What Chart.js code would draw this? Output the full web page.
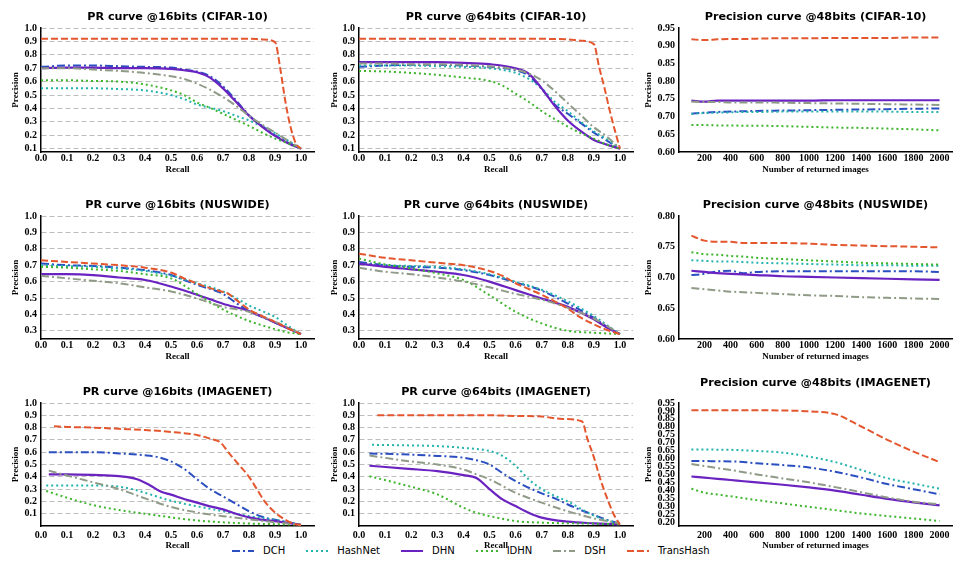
<!DOCTYPE html>
<html>
<head>
<meta charset="utf-8">
<script src="https://cdn.jsdelivr.net/npm/chart.js@4.4.1/dist/chart.umd.min.js"></script>
<style>
  body { margin: 0; background: #fff; }
  #page { position: relative; width: 969px; height: 565px; overflow: hidden; background: #fff; }
  #page canvas { position: absolute; }
  #legend { position: absolute; left: 232px; top: 544px; display: flex; font: 10px 'DejaVu Sans', sans-serif; line-height: 14px; color: #000; }
  #legend .item { display: flex; align-items: center; margin-right: 21px; }
  #legend svg { margin-right: 9px; }
</style>
</head>
<body>
<div id="page"><div id="legend"></div></div>
<script>
// methods, in legend order
const methods = ['DCH', 'HashNet', 'DHN', 'IDHN', 'DSH', 'TransHash'];
const colors = ['#2b4fc1', '#22b3ad', '#6a22c0', '#3db52c', '#8f9b87', '#e4572e'];
const dashes = [[8, 3, 2, 3], [2, 3], [], [2, 3], [8, 3, 2, 3], [7, 3]];

// tick labels
const recallTicks = [0, 0.1, 0.2, 0.3, 0.4, 0.5, 0.6, 0.7, 0.8, 0.9, 1.0];
const prTicks = [0.1, 0.2, 0.3, 0.4, 0.5, 0.6, 0.7, 0.8, 0.9, 1.0];
const nusPrTicks = [0.3, 0.4, 0.5, 0.6, 0.7, 0.8, 0.9, 1.0];
const topKTicks = [200, 400, 600, 800, 1000, 1200, 1400, 1600, 1800, 2000];
const cifarTopTicks = [0.60, 0.65, 0.70, 0.75, 0.80, 0.85, 0.90, 0.95];
const nusTopTicks = [0.60, 0.65, 0.70, 0.75, 0.80];
const imnetTopTicks = [0.20, 0.25, 0.30, 0.35, 0.40, 0.45, 0.50, 0.55, 0.60, 0.65, 0.70, 0.75, 0.80, 0.85, 0.90, 0.95];

// number of returned images
const topK = [100, 200, 300, 400, 500, 600, 800, 1000, 1200, 1400, 1600, 1800, 2000];

// PR curves: [recall, precision] per method (order of methods)
const cifar16 = [
  [[0,.71],[.1,.72],[.2,.72],[.3,.715],[.4,.71],[.5,.705],[.55,.69],[.6,.675],[.65,.64],[.7,.565],[.75,.46],[.8,.35],[.85,.27],[.9,.2],[.95,.145],[1,.1]],
  [[0,.55],[.1,.55],[.2,.55],[.3,.545],[.4,.535],[.45,.52],[.5,.5],[.55,.47],[.6,.43],[.65,.405],[.7,.38],[.75,.345],[.8,.31],[.85,.265],[.9,.215],[.95,.16],[1,.1]],
  [[0,.70],[.1,.705],[.2,.705],[.3,.70],[.4,.70],[.5,.695],[.55,.685],[.6,.67],[.65,.63],[.7,.55],[.75,.45],[.8,.345],[.85,.265],[.9,.195],[.95,.14],[1,.1]],
  [[0,.61],[.1,.61],[.2,.605],[.3,.60],[.4,.58],[.45,.56],[.5,.535],[.55,.5],[.6,.445],[.65,.405],[.7,.36],[.75,.315],[.8,.27],[.85,.22],[.9,.175],[.95,.14],[1,.1]],
  [[0,.70],[.1,.70],[.2,.69],[.3,.68],[.4,.665],[.5,.64],[.55,.62],[.6,.585],[.65,.54],[.7,.485],[.75,.42],[.8,.345],[.85,.28],[.9,.22],[.95,.16],[1,.1]],
  [[0,.92],[.2,.92],[.4,.92],[.6,.92],[.8,.92],[.85,.915],[.9,.895],[.92,.7],[.94,.45],[.96,.26],[.98,.14],[1,.1]]
];
const cifar64 = [
  [[0,.71],[.1,.72],[.2,.725],[.3,.725],[.4,.72],[.5,.71],[.6,.685],[.65,.645],[.7,.545],[.75,.43],[.8,.36],[.85,.29],[.9,.22],[.95,.16],[1,.1]],
  [[0,.72],[.1,.72],[.2,.72],[.3,.715],[.4,.71],[.5,.70],[.6,.665],[.65,.62],[.7,.55],[.75,.45],[.8,.38],[.85,.3],[.9,.23],[.95,.17],[1,.1]],
  [[0,.745],[.1,.745],[.2,.745],[.3,.745],[.4,.74],[.5,.73],[.6,.70],[.65,.66],[.7,.55],[.75,.42],[.8,.31],[.85,.23],[.9,.165],[.95,.13],[1,.1]],
  [[0,.68],[.1,.675],[.2,.665],[.3,.65],[.4,.63],[.5,.605],[.55,.57],[.6,.51],[.65,.45],[.7,.38],[.75,.32],[.8,.265],[.85,.215],[.9,.175],[.95,.13],[1,.1]],
  [[0,.735],[.1,.735],[.2,.73],[.3,.73],[.4,.725],[.5,.715],[.6,.69],[.65,.66],[.7,.61],[.75,.53],[.8,.44],[.85,.35],[.9,.26],[.95,.19],[1,.1]],
  [[0,.92],[.2,.92],[.4,.92],[.6,.92],[.8,.915],[.85,.905],[.9,.88],[.92,.71],[.94,.56],[.96,.39],[.98,.24],[1,.1]]
];
const nus16 = [
  [[0,.71],[.1,.70],[.2,.695],[.3,.685],[.4,.67],[.5,.64],[.55,.61],[.6,.58],[.7,.525],[.75,.47],[.8,.42],[.85,.385],[.9,.35],[.95,.315],[1,.28]],
  [[0,.70],[.1,.695],[.2,.69],[.3,.68],[.4,.665],[.5,.635],[.6,.59],[.7,.54],[.75,.50],[.8,.455],[.85,.42],[.9,.385],[.95,.33],[1,.28]],
  [[0,.645],[.1,.645],[.2,.64],[.3,.625],[.4,.61],[.5,.57],[.6,.52],[.7,.465],[.8,.42],[.9,.35],[.95,.315],[1,.28]],
  [[0,.69],[.1,.685],[.2,.675],[.3,.665],[.4,.645],[.5,.62],[.6,.525],[.7,.43],[.8,.36],[.9,.31],[.95,.29],[1,.28]],
  [[0,.635],[.1,.62],[.2,.605],[.3,.59],[.4,.565],[.5,.54],[.6,.497],[.7,.446],[.8,.416],[.9,.355],[.95,.32],[1,.28]],
  [[0,.73],[.1,.72],[.2,.71],[.3,.70],[.4,.685],[.5,.655],[.55,.62],[.6,.588],[.65,.56],[.7,.537],[.72,.527],[.75,.49],[.8,.43],[.85,.39],[.9,.355],[.95,.315],[1,.28]]
];
const nus64 = [
  [[0,.72],[.1,.70],[.2,.69],[.3,.685],[.4,.67],[.5,.64],[.6,.595],[.7,.545],[.8,.466],[.9,.38],[.95,.325],[1,.28]],
  [[0,.71],[.1,.70],[.2,.695],[.3,.69],[.4,.675],[.5,.645],[.6,.60],[.7,.55],[.8,.48],[.9,.39],[.95,.335],[1,.28]],
  [[0,.71],[.1,.69],[.2,.675],[.3,.66],[.4,.64],[.5,.6],[.6,.548],[.7,.497],[.8,.446],[.9,.37],[.95,.32],[1,.28]],
  [[0,.74],[.1,.705],[.2,.68],[.3,.65],[.4,.61],[.5,.517],[.6,.416],[.7,.345],[.8,.30],[.9,.288],[1,.28]],
  [[0,.685],[.1,.66],[.2,.645],[.3,.625],[.4,.60],[.5,.565],[.6,.525],[.7,.49],[.8,.44],[.9,.375],[.95,.33],[1,.28]],
  [[0,.77],[.1,.745],[.2,.73],[.3,.715],[.4,.70],[.45,.685],[.5,.665],[.55,.635],[.6,.59],[.65,.555],[.7,.52],[.75,.48],[.8,.435],[.85,.38],[.9,.34],[.95,.305],[1,.28]]
];
const imnet16 = [
  [[.03,.60],[.1,.60],[.2,.60],[.3,.59],[.4,.575],[.45,.56],[.5,.525],[.55,.465],[.6,.38],[.65,.30],[.7,.24],[.75,.18],[.8,.12],[.85,.075],[.9,.05],[.95,.03],[1,.01]],
  [[.02,.33],[.1,.33],[.2,.33],[.3,.32],[.35,.30],[.4,.27],[.5,.205],[.6,.16],[.7,.12],[.8,.08],[.9,.05],[1,.01]],
  [[.03,.42],[.1,.42],[.2,.415],[.3,.405],[.37,.38],[.42,.33],[.46,.28],[.5,.255],[.55,.22],[.6,.19],[.65,.16],[.7,.135],[.75,.1],[.8,.07],[.85,.05],[.9,.04],[.95,.025],[1,.01]],
  [[.02,.285],[.1,.23],[.2,.17],[.3,.13],[.4,.10],[.5,.07],[.6,.045],[.7,.03],[.8,.02],[.9,.015],[1,.01]],
  [[.03,.45],[.1,.41],[.2,.355],[.3,.30],[.4,.225],[.5,.155],[.6,.11],[.7,.08],[.8,.055],[.9,.03],[1,.01]],
  [[.05,.81],[.1,.805],[.2,.80],[.3,.79],[.4,.78],[.5,.765],[.55,.755],[.6,.74],[.65,.71],[.69,.68],[.72,.6],[.76,.5],[.8,.4],[.83,.3],[.86,.2],[.9,.11],[.94,.05],[.97,.02],[1,.005]]
];
const imnet64 = [
  [[.04,.59],[.2,.58],[.3,.57],[.4,.555],[.45,.535],[.5,.50],[.55,.43],[.6,.365],[.7,.265],[.75,.225],[.8,.175],[.85,.13],[.9,.09],[.95,.05],[1,.02]],
  [[.05,.66],[.2,.655],[.3,.65],[.4,.635],[.5,.61],[.55,.57],[.6,.49],[.65,.38],[.7,.30],[.75,.245],[.8,.20],[.85,.14],[.9,.085],[.95,.046],[1,.02]],
  [[.04,.49],[.19,.465],[.3,.446],[.4,.414],[.45,.39],[.5,.30],[.55,.216],[.6,.162],[.65,.108],[.7,.068],[.8,.035],[.9,.022],[1,.013]],
  [[.04,.405],[.19,.324],[.3,.257],[.4,.149],[.45,.108],[.5,.081],[.6,.04],[.7,.027],[.9,.019],[1,.013]],
  [[.04,.573],[.19,.527],[.3,.50],[.4,.46],[.45,.42],[.5,.38],[.6,.27],[.7,.19],[.8,.12],[.9,.062],[1,.02]],
  [[.07,.90],[.2,.90],[.3,.90],[.4,.90],[.5,.90],[.6,.895],[.7,.89],[.78,.87],[.855,.85],[.875,.71],[.9,.56],[.925,.38],[.95,.23],[.975,.10],[1,.01]]
];

// precision @48bits vs. returned images (values at topK)
const cifarTop = [
  [.708,.711,.713,.714,.715,.716,.717,.718,.719,.720,.721,.722,.723],
  [.708,.710,.711,.712,.713,.713,.714,.714,.714,.714,.714,.713,.713],
  [.745,.742,.745,.745,.745,.745,.745,.745,.746,.746,.746,.746,.746],
  [.676,.676,.675,.675,.674,.674,.673,.671,.669,.668,.666,.664,.661],
  [.742,.741,.741,.740,.740,.740,.739,.738,.737,.736,.735,.734,.733],
  [.918,.916,.918,.919,.919,.920,.921,.921,.922,.922,.922,.923,.923]
];
const nusTop = [
  [.704,.706,.710,.711,.707,.709,.710,.710,.710,.710,.710,.710,.709],
  [.728,.727,.726,.726,.725,.724,.723,.722,.721,.720,.720,.719,.719],
  [.711,.709,.707,.706,.705,.704,.702,.701,.700,.699,.698,.697,.696],
  [.741,.738,.737,.735,.734,.732,.730,.728,.726,.724,.723,.722,.721],
  [.683,.681,.679,.677,.676,.675,.673,.671,.670,.668,.667,.666,.665],
  [.768,.760,.758,.758,.756,.756,.756,.755,.753,.752,.751,.750,.749]
];
const imnetTop = [
  [.585,.584,.583,.582,.578,.570,.559,.544,.517,.481,.439,.407,.375],
  [.657,.657,.656,.655,.652,.648,.637,.612,.578,.528,.476,.443,.410],
  [.487,.480,.472,.465,.457,.450,.435,.418,.398,.372,.346,.324,.305],
  [.410,.385,.373,.362,.350,.338,.317,.296,.275,.254,.238,.222,.206],
  [.565,.553,.540,.528,.514,.500,.475,.450,.420,.388,.355,.328,.312],
  [.905,.905,.905,.905,.905,.904,.903,.897,.880,.802,.718,.644,.578]
];

// page layout of the plot areas
const colL = [41, 359, 679], colR = [314, 633, 952];
const rowT = [28, 216, 403], rowB = [152, 339, 526];
const yTitleOffset = [10.6, 11.3, 5.6];

const panels = [
  {title: 'PR curve @16bits (CIFAR-10)', pr: cifar16, row: 0, col: 0, min: 0.075, max: 1, yTicks: prTicks},
  {title: 'PR curve @64bits (CIFAR-10)', pr: cifar64, row: 0, col: 1, min: 0.075, max: 1, yTicks: prTicks},
  {title: 'Precision curve @48bits (CIFAR-10)', top: cifarTop, row: 0, col: 2, min: 0.6, max: 0.95, yTicks: cifarTopTicks},
  {title: 'PR curve @16bits (NUSWIDE)', pr: nus16, row: 1, col: 0, min: 0.25, max: 1, yTicks: nusPrTicks},
  {title: 'PR curve @64bits (NUSWIDE)', pr: nus64, row: 1, col: 1, min: 0.25, max: 1, yTicks: nusPrTicks},
  {title: 'Precision curve @48bits (NUSWIDE)', top: nusTop, row: 1, col: 2, min: 0.6, max: 0.8, yTicks: nusTopTicks},
  {title: 'PR curve @16bits (IMAGENET)', pr: imnet16, row: 2, col: 0, min: 0, max: 1, yTicks: prTicks},
  {title: 'PR curve @64bits (IMAGENET)', pr: imnet64, row: 2, col: 1, min: 0, max: 1, yTicks: prTicks},
  {title: 'Precision curve @48bits (IMAGENET)', top: imnetTop, row: 2, col: 2, min: 0.175, max: 0.95, yTicks: imnetTopTicks, titleGap: 20}
];

const serif = "'Liberation Serif', 'Times New Roman', serif";
const tickFont = {family: serif, size: 10, weight: 'bold'};
const page = document.getElementById('page');

panels.forEach(p => {
  const isPR = !!p.pr;
  const gap = p.titleGap || 11;
  const xH = p.row === 2 ? 26 : 24;
  const left = colL[p.col] - 41;
  const top = rowT[p.row] - (gap + 7);
  const width = colR[p.col] + 6 - left;
  const height = rowB[p.row] + xH - top;

  const cv = document.createElement('canvas');
  cv.width = width; cv.height = height;
  cv.style.left = left + 'px'; cv.style.top = top + 'px';
  page.appendChild(cv);

  const datasets = methods.map((m, i) => ({
    label: m,
    data: isPR ? p.pr[i].map(pt => ({x: pt[0], y: pt[1]}))
               : p.top[i].map((v, k) => ({x: topK[k], y: v})),
    borderColor: colors[i],
    borderWidth: m === 'DHN' ? 2.2 : 2,
    borderDash: dashes[i],
    borderCapStyle: 'butt',
    pointRadius: 0,
    cubicInterpolationMode: 'monotone',
    fill: false,
    order: methods.length - i
  }));

  new Chart(cv.getContext('2d'), {
    type: 'line',
    data: {datasets},
    options: {
      responsive: false,
      animation: false,
      devicePixelRatio: 1,
      layout: {padding: {right: 6}},
      plugins: {
        legend: {display: false},
        tooltip: {enabled: false},
        title: {
          display: true,
          text: p.title,
          fullSize: false,
          color: '#000',
          font: {family: "'DejaVu Sans', sans-serif", size: 11.2, weight: 'bold', lineHeight: 1.2},
          padding: {top: 0.28, bottom: gap - 6.72}
        }
      },
      scales: {
        x: {
          type: 'linear',
          min: isPR ? 0 : 5,
          max: isPR ? 1.05 : 2095,
          afterBuildTicks: s => { s.ticks = (isPR ? recallTicks : topKTicks).map(v => ({value: v})); },
          afterFit: s => { s.height = xH; },
          ticks: {
            font: tickFont, color: '#000', padding: p.row === 2 ? 3 : 0,
            maxRotation: 0, autoSkip: false,
            callback: v => isPR ? v.toFixed(1) : String(v)
          },
          grid: {display: false, drawTicks: false},
          border: {display: true, color: '#000', width: 1.5},
          title: {
            display: true,
            text: isPR ? 'Recall' : 'Number of returned images',
            color: '#000',
            font: {family: serif, size: 9, weight: 'bold', lineHeight: 1.2},
            padding: {top: 0, bottom: 0.6}
          }
        },
        y: {
          min: p.min,
          max: p.max,
          afterBuildTicks: s => { s.ticks = p.yTicks.map(v => ({value: v})); },
          afterFit: s => { s.width = 41; },
          ticks: {
            font: tickFont, color: '#000', padding: 4, autoSkip: false,
            callback: v => isPR ? v.toFixed(1) : v.toFixed(2)
          },
          grid: {display: isPR, drawTicks: false, color: '#bdbdbd', lineWidth: 1},
          border: {display: true, color: '#000', width: 1.5, dash: [5, 3]},
          title: {
            display: true,
            text: 'Precision',
            color: '#000',
            font: {family: serif, size: 9, weight: 'bold', lineHeight: 1.2},
            padding: {top: yTitleOffset[p.col], bottom: 0}
          }
        }
      }
    }
  });
});

// shared legend under the grid
const legend = document.getElementById('legend');
methods.forEach((m, i) => {
  const item = document.createElement('div');
  item.className = 'item';
  const dash = dashes[i].length ? ` stroke-dasharray="${dashes[i].join(' ')}"` : '';
  item.innerHTML = `<svg width="22" height="6"><line x1="0" y1="3" x2="22" y2="3" stroke="${colors[i]}" stroke-width="2"${dash}/></svg><span>${m}</span>`;
  legend.appendChild(item);
});
</script>
</body>
</html>
